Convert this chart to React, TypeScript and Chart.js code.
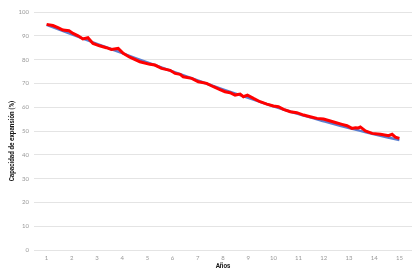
import React, { useEffect, useRef } from "react";
import { Chart, registerables } from "chart.js";

Chart.register(...registerables);

// Measured series (years on x, capacity % on y)
const measuredYears = [
  1.0, 1.25, 1.45, 1.65, 1.89, 2.05, 2.25, 2.44, 2.64, 2.84, 3.1, 3.37, 3.57, 3.84, 4.04, 4.3,
  4.7, 5.1, 5.3, 5.56, 5.9, 6.1, 6.3, 6.42, 6.76, 7.02, 7.35, 7.62, 7.88,
  8.08, 8.28, 8.48, 8.68, 8.81, 8.97, 9.21, 9.47, 9.74, 10.0, 10.2, 10.4, 10.67, 10.93, 11.2, 11.46,
  11.73, 11.99, 12.26, 12.46, 12.72, 12.92, 13.12, 13.25, 13.38, 13.45, 13.65, 13.92, 14.25, 14.57, 14.71, 14.84, 15.0,
];
const measuredValues = [
  94.8, 94.3, 93.4, 92.4, 92.1, 91.0, 90.0, 88.7, 89.2, 86.8, 85.8, 85.0, 84.3, 84.7, 82.6, 81.0,
  79.1, 78.0, 77.7, 76.3, 75.5, 74.2, 73.8, 72.8, 72.1, 70.7, 70.0, 68.6, 67.4,
  66.5, 66.1, 65.1, 65.5, 64.4, 65.1, 63.7, 62.3, 61.3, 60.5, 60.2, 59.1, 58.1, 57.7, 56.7, 56.0,
  55.3, 55.0, 54.2, 53.6, 52.8, 52.2, 51.1, 51.4, 51.3, 51.7, 50.0, 49.0, 48.6, 48.0, 48.6, 47.4, 46.9,
];

// Trend series
const trendYears = [1, 2, 3, 4, 5, 6, 7, 8, 9, 10, 11, 12, 13, 14, 15];
const trendValues = [94.6, 90.6, 86.6, 82.7, 78.8, 75.0, 71.2, 67.5, 63.9, 60.4, 57.1, 54.1, 51.2, 48.6, 46.2];

const xTickLabels = [1, 2, 3, 4, 5, 6, 7, 8, 9, 10, 11, 12, 13, 14, 15];
const yTickValues = [0, 10, 20, 30, 40, 50, 60, 70, 80, 90, 100];

const xTitle = "Años";
const yTitle = "Capacidad de expansión (%)";

const titleFont = "bold 6.4px Roboto, 'Noto Sans', sans-serif";

const yTitlePlugin = {
  id: "yTitlePlugin",
  afterDraw(chart: any) {
    const ctx = chart.ctx;
    ctx.save();
    ctx.translate(12, 141);
    ctx.rotate(-Math.PI / 2);
    ctx.font = titleFont;
    ctx.fillStyle = "#1a1a1a";
    ctx.textAlign = "center";
    ctx.textBaseline = "middle";
    ctx.fillText(yTitle, 0, 0);
    ctx.restore();
  },
};

export default function App() {
  const ref = useRef<HTMLCanvasElement | null>(null);

  useEffect(() => {
    document.body.style.margin = "0";
    const canvas = ref.current;
    if (!canvas) return;
    const font = "Lato, 'Open Sans', sans-serif";
    const chart = new Chart(canvas, {
      type: "line",
      data: {
        datasets: [
          {
            label: "Medida",
            data: measuredYears.map((x, i) => ({ x, y: measuredValues[i] })),
            borderColor: "#ff0000",
            borderWidth: 3,
            pointRadius: 0,
            tension: 0,
            fill: false,
          },
          {
            label: "Tendencia",
            data: trendYears.map((x, i) => ({ x, y: trendValues[i] })),
            borderColor: "#5b7fd0",
            borderWidth: 2.5,
            pointRadius: 0,
            tension: 0.3,
            fill: false,
          },
        ],
      },
      plugins: [yTitlePlugin],
      options: {
        responsive: false,
        animation: false,
        layout: { padding: { left: 0, right: 8, top: 12, bottom: 10 } },
        plugins: {
          legend: { display: false },
          tooltip: { enabled: false },
        },
        scales: {
          x: {
            type: "linear",
            min: 0.5,
            max: 15.5,
            afterBuildTicks: (scale: any) => {
              scale.ticks = xTickLabels.map((v) => ({ value: v }));
            },
            afterFit: (scale: any) => {
              scale.height = 20;
            },
            grid: { display: false, drawTicks: false },
            border: { display: false },
            ticks: {
              color: "#999999",
              font: { family: font, size: 6 },
              padding: 4,
              maxRotation: 0,
              autoSkip: false,
            },
            title: {
              display: true,
              text: xTitle,
              color: "#1a1a1a",
              font: { family: "Roboto, 'Noto Sans', sans-serif", size: 6.4, weight: "bold" },
              padding: { top: 2, bottom: 0 },
            },
          },
          y: {
            type: "linear",
            min: 0,
            max: 100,
            afterBuildTicks: (scale: any) => {
              scale.ticks = yTickValues.map((v) => ({ value: v }));
            },
            afterFit: (scale: any) => {
              scale.width = 34;
            },
            grid: { color: "#e4e4e4", lineWidth: 1, drawTicks: false },
            border: { display: false },
            ticks: {
              color: "#999999",
              font: { family: font, size: 6 },
              padding: 5,
            },
            title: { display: false },
          },
        },
      },
    });
    return () => chart.destroy();
  }, []);

  return (
    <div style={{ width: 420, height: 280, background: "#ffffff" }}>
      <canvas ref={ref} width={420} height={280} />
    </div>
  );
}
